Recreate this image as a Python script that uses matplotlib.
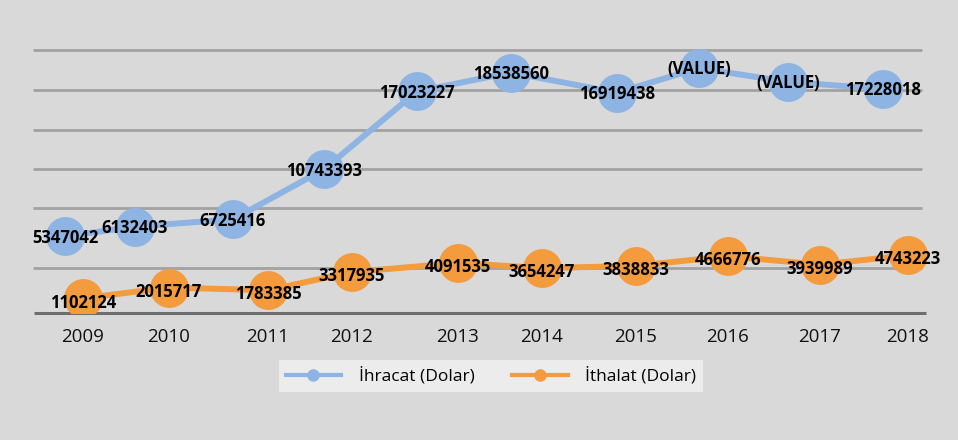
import matplotlib
matplotlib.use("Agg")
import matplotlib.pyplot as plt

plt.rcParams['font.family'] = ['Open Sans', 'DejaVu Sans']

years = ['2009', '2010', '2011', '2012', '2013', '2014', '2015', '2016', '2017', '2018']
ihracat = [5347042, 6132403, 6725416, 10743393, 17023227, 18538560, 16919438, 18900000, 17780000, 17228018]
ihracat_text = ['5347042', '6132403', '6725416', '10743393', '17023227', '18538560', '16919438',
                '(VALUE)', '(VALUE)', '17228018']
ithalat = [1102124, 2015717, 1783385, 3317935, 4091535, 3654247, 3838833, 4666776, 3939989, 4743223]

# the category slots are not evenly spaced in the source, x in pixels
tick_x = [83, 169, 268, 352, 458, 542, 636, 728, 820, 908]
ihracat_x = [65, 135, 233, 324, 417, 511, 617, 699, 788, 883]
grid_px = [50, 90, 130, 169, 208, 268]

BLUE = '#8eb4e3'
ORANGE = '#f49b3e'
BG = '#d9d9d9'
W, H = 958, 440

fig = plt.figure(figsize=(W / 100, H / 100), dpi=100, facecolor=BG)
ax = fig.add_axes([0, (H - 313) / H, 1, 313 / H])
ax.set_facecolor('none')
ax.set_xlim(0, W)
ax.set_ylim(-0.135e6, 26.28e6)
ax2 = ax.twinx()
ax2.set_ylim(-0.82e6, 24.38e6)
for a in (ax, ax2):
    for s in a.spines.values():
        s.set_visible(False)
ax2.set_yticks([])
ax.set_yticks([])

for py in grid_px:
    ax.hlines(1 - py / 313, 33 / W, 922 / W, transform=ax.transAxes, color='#a2a2a2', lw=2, zorder=1)
ax.hlines(0, 34 / W, 926 / W, transform=ax.transAxes, color='#6e6e6e', lw=2.2, zorder=1, clip_on=False)

ax.set_xticks(tick_x)
ax.set_xticklabels(years, fontsize=13.5)
ax.tick_params(axis='x', length=0, pad=11, colors='#111111')

ax.plot(tick_x, ithalat, color=ORANGE, lw=4.3, marker='o', ms=27, zorder=3)
ax2.plot(ihracat_x, ihracat, color=BLUE, lw=4.3, marker='o', ms=27, zorder=3)

for x, v in zip(tick_x, ithalat):
    ax.annotate(str(v), (x, v), xytext=(0, -3), textcoords='offset points', ha='center', va='center',
                fontsize=12, fontweight='bold', color='black', zorder=5)
for x, v, t in zip(ihracat_x, ihracat, ihracat_text):
    ax2.annotate(t, (x, v), xytext=(0, -1), textcoords='offset points', ha='center', va='center',
                 fontsize=12, fontweight='bold', color='black', zorder=5)

h1, = ax.plot([], [], color=BLUE, lw=3, marker='o', ms=8, label='İhracat (Dolar)')
h2, = ax.plot([], [], color=ORANGE, lw=3, marker='o', ms=8, label='İthalat (Dolar)')
leg = fig.legend(handles=[h1, h2], loc='center', bbox_to_anchor=(491 / W, 1 - 376 / H), ncol=2,
                 fontsize=12.5, frameon=True, fancybox=False, facecolor='#ececec', edgecolor='none',
                 framealpha=1, handlelength=3.2, handletextpad=1.0, columnspacing=2.2,
                 borderpad=0.4)

fig.savefig('out.png', dpi=100, facecolor=BG)
